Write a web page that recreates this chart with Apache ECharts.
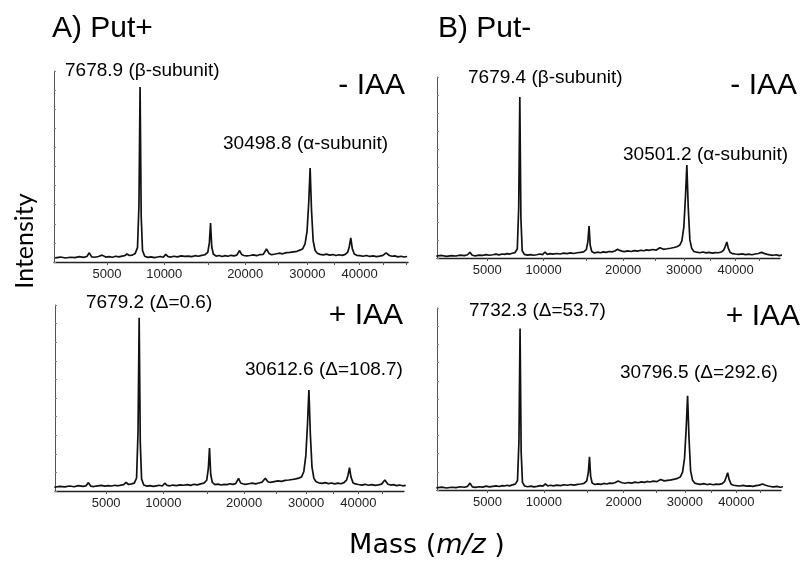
<!DOCTYPE html>
<html>
<head>
<meta charset="utf-8">
<script src="https://cdn.jsdelivr.net/npm/echarts@6/dist/echarts.min.js"></script>
<style>
html, body { margin: 0; padding: 0; background: #fff; }
#chart { width: 803px; height: 564px; }
</style>
</head>
<body>
<div id="chart"></div>
<script>
// m/z sample points shared by the four spectra
var mass = [
  1950, 2200, 2450, 2700, 2950, 3200, 3450, 3650, 3800, 3950,
  4150, 4400, 4650, 4900, 5150, 5400, 5650, 5900, 6150, 6350,
  6550, 6750, 7000, 7250, 7450, 7580, 7680, 7780, 7900, 8100,
  8400, 8700, 9000, 9300, 9600, 9900, 10150, 10400, 10700, 11000,
  11400, 11800, 12200, 12600, 13000, 13400, 13800, 14200, 14600, 14950,
  15150, 15300, 15450, 15650, 16000, 16400, 16800, 17200, 17600, 18000,
  18400, 18800, 19200, 19500, 19800, 20200, 20700, 21200, 21700, 22200,
  22700, 23200, 23600, 24000, 24600, 25200, 25800, 26400, 27000, 27600,
  28200, 28700, 29200, 29600, 29950, 30250, 30500, 30750, 31050, 31400,
  31800, 32300, 32900, 33500, 34100, 34700, 35300, 35900, 36500, 37100,
  37600, 37900, 38200, 38500, 38900, 39400, 40000, 40700, 41400, 42100,
  42800, 43500, 44200, 44900, 45600, 46300, 46900, 47500, 48200, 48900,
  49600, 50300
];

// relative intensity (% of panel height)
var putPlusNoIAA = [
  2.2, 2.6, 2.1, 2.5, 2.3, 2.8, 2.4, 2.9, 4.8, 2.7,
  2.5, 2.9, 3.6, 2.6, 2.8, 2.5, 3.0, 2.7, 3.1, 3.3,
  4.2, 3.4, 3.6, 4.5, 7.5, 30, 91.6, 24, 6.0, 3.0,
  2.4, 2.7, 2.3, 2.6, 2.9, 2.5, 4.0, 2.8, 2.6, 3.0,
  2.7, 3.2, 2.9, 3.1, 2.8, 3.3, 3.0, 3.5, 3.8, 5.0,
  10, 20.4, 8.0, 4.2, 3.1, 3.4, 2.9, 3.3, 3.0, 3.5,
  3.2, 3.6, 6.0, 3.9, 3.4, 3.2, 3.4, 3.7, 3.3, 3.9,
  4.0, 6.8, 4.5, 3.8, 4.2, 4.6, 4.3, 4.9, 5.0, 5.3,
  5.6, 6.2, 7.0, 9.5, 16, 31, 49.2, 27, 11, 6.0,
  4.6, 4.0, 3.7, 4.1, 3.6, 3.9, 3.4, 3.8, 3.5, 4.0,
  5.2, 8.0, 12.6, 7.0, 4.2, 3.5, 3.3, 3.0, 3.4, 2.9,
  3.2, 2.8, 3.1, 3.5, 4.8, 3.4, 3.0, 3.2, 2.7, 3.0,
  2.6, 2.9
];
var putMinusNoIAA = [
  1.0, 1.4, 0.9, 1.3, 1.1, 1.6, 1.3, 1.8, 3.2, 1.5,
  1.2, 1.6, 1.4, 1.9, 1.5, 1.8, 2.1, 1.7, 2.2, 2.0,
  2.4, 2.1, 2.6, 3.0, 5.0, 28, 89, 22, 4.0, 2.0,
  1.6, 1.9, 1.5, 1.8, 2.2, 1.9, 3.3, 2.0, 2.4, 2.1,
  2.5, 2.2, 2.7, 2.4, 2.8, 2.5, 2.9, 3.1, 3.4, 4.6,
  9.0, 17.7, 7.0, 3.6, 2.8, 3.2, 2.9, 3.4, 3.1, 3.6,
  3.4, 3.9, 4.8, 4.2, 3.8, 3.5, 3.9, 3.6, 4.1, 3.8,
  4.3, 4.0, 4.5, 4.2, 4.7, 4.4, 5.7, 4.8, 5.1, 5.4,
  5.8, 6.2, 7.0, 9.5, 17, 34, 51.4, 28, 10, 5.2,
  3.6, 3.2, 2.9, 3.3, 2.8, 3.1, 2.7, 3.0, 2.9, 3.3,
  4.5, 6.5, 8.8, 5.5, 3.0, 2.4, 2.2, 2.0, 2.3, 1.9,
  2.1, 1.8, 2.2, 2.5, 3.1, 2.4, 2.0, 1.7, 1.5, 1.8,
  1.3, 1.6
];
var putPlusIAA = [
  2.0, 2.5, 2.2, 2.7, 2.3, 2.9, 2.5, 2.8, 4.5, 2.6,
  2.4, 2.8, 3.0, 2.6, 2.9, 2.7, 3.1, 2.8, 3.2, 3.4,
  4.6, 3.5, 3.8, 4.2, 7.0, 32, 93.2, 26, 6.5, 3.2,
  2.6, 2.9, 2.5, 2.8, 3.1, 2.7, 4.2, 3.0, 2.8, 3.2,
  2.9, 3.3, 3.1, 3.4, 3.0, 3.6, 3.3, 3.8, 4.2, 5.8,
  12, 23.1, 9.0, 4.6, 3.4, 3.7, 3.2, 3.6, 3.4, 3.9,
  3.6, 4.0, 6.8, 4.3, 3.9, 3.6, 3.9, 4.2, 3.8, 4.3,
  4.8, 6.9, 5.0, 4.6, 5.0, 5.4, 5.2, 5.7, 5.9, 6.2,
  6.5, 6.9, 7.6, 10.5, 19, 36, 54.3, 31, 13, 6.8,
  5.0, 4.4, 4.1, 4.5, 4.0, 4.3, 3.8, 4.2, 3.9, 4.5,
  5.8, 8.5, 12.5, 7.5, 4.5, 3.8, 3.5, 3.2, 3.6, 3.1,
  3.4, 3.0, 3.3, 3.7, 5.9, 3.6, 3.2, 3.4, 2.9, 3.2,
  2.8, 3.0
];
var putMinusIAA = [
  1.2, 1.6, 1.1, 1.5, 1.3, 1.8, 1.5, 2.0, 3.8, 1.7,
  1.4, 1.8, 1.6, 2.1, 1.7, 2.0, 2.3, 1.9, 2.4, 2.2,
  2.6, 2.3, 2.8, 3.2, 5.2, 27, 88.8, 21, 4.2, 2.2,
  1.8, 2.1, 1.7, 2.0, 2.4, 2.1, 3.4, 2.2, 2.6, 2.3,
  2.7, 2.4, 2.9, 2.6, 3.0, 2.7, 3.1, 3.3, 3.6, 5.0,
  9.5, 18.3, 7.5, 3.8, 3.0, 3.4, 3.1, 3.6, 3.3, 3.8,
  3.6, 4.1, 4.9, 4.4, 4.0, 3.7, 4.1, 3.8, 4.3, 4.0,
  4.5, 4.2, 4.7, 4.4, 4.9, 4.6, 5.8, 5.0, 5.3, 5.6,
  6.0, 6.4, 7.2, 9.8, 17.5, 34, 51.8, 29, 10.5, 5.4,
  3.8, 3.4, 3.1, 3.5, 3.0, 3.3, 2.9, 3.2, 3.1, 3.5,
  4.8, 7.0, 9.5, 5.8, 3.2, 2.6, 2.4, 2.2, 2.5, 2.1,
  2.3, 2.0, 2.4, 2.7, 3.3, 2.6, 2.2, 1.9, 1.7, 2.0,
  1.5, 1.8
];

var tickLabels = [5000, 10000, 20000, 30000, 40000];
var tickMarks = [5000, 10000, 15000, 20000, 25000, 30000, 35000, 40000, 45000, 50000];

var panelTitles = ['A) Put+', 'B) Put-'];
var conditions = ['- IAA', '+ IAA'];
var betaLabels = ['7678.9 (β-subunit)', '7679.4 (β-subunit)', '7679.2 (Δ=0.6)', '7732.3 (Δ=53.7)'];
var alphaLabels = ['30498.8 (α-subunit)', '30501.2 (α-subunit)', '30612.6 (Δ=108.7)', '30796.5 (Δ=292.6)'];

// TOF spectra: m/z axis is drawn on a square-root scale
var panels = [
  { vals: putPlusNoIAA,  left: 54,  top: 71,  width: 354, height: 191, lo: 1900, hi: 50500 },
  { vals: putMinusNoIAA, left: 437, top: 77,  width: 343, height: 181, lo: 1980, hi: 49800 },
  { vals: putPlusIAA,    left: 55,  top: 305, width: 349, height: 186, lo: 1980, hi: 49900 },
  { vals: putMinusIAA,   left: 437, top: 308, width: 344, height: 182, lo: 1980, hi: 49800 }
];

var font = '"Liberation Sans", Arial, sans-serif';
var grids = [], xAxes = [], yAxes = [], series = [];

panels.forEach(function (p, i) {
  grids.push({ left: p.left, top: p.top, width: p.width, height: p.height });
  xAxes.push({
    type: 'value', gridIndex: i,
    min: Math.sqrt(p.lo), max: Math.sqrt(p.hi),
    axisLine: { show: true, onZero: false, lineStyle: { color: '#222', width: 1.3 } },
    axisTick: { show: true, customValues: tickMarks.map(Math.sqrt), length: 3, lineStyle: { color: '#555' } },
    axisLabel: {
      customValues: tickLabels.map(Math.sqrt),
      formatter: function (v) { return String(Math.round(v * v)); },
      fontSize: 13, color: '#222', margin: 6, fontFamily: font
    },
    splitLine: { show: false }
  });
  yAxes.push({
    type: 'value', gridIndex: i, min: 0, max: 100, interval: 10,
    axisLine: { show: true, lineStyle: { color: '#555', width: 1 } },
    axisTick: { show: true, inside: true, length: 2, lineStyle: { color: '#888' } },
    axisLabel: { show: false },
    splitLine: { show: false }
  });
  series.push({
    type: 'line', xAxisIndex: i, yAxisIndex: i,
    showSymbol: false, smooth: false, clip: true,
    lineStyle: { color: '#111', width: 1.7 },
    data: mass.map(function (m, k) { return [Math.sqrt(m), p.vals[k]]; })
  });
});

function txt(s, x, y, size, align) {
  return {
    type: 'text', x: x, y: y,
    style: { text: s, font: size + 'px ' + font, fill: '#000', textAlign: align || 'left', textVerticalAlign: 'middle' }
  };
}

var graphics = [
  txt(panelTitles[0], 52, 29, 30),
  txt(panelTitles[1], 438, 29, 30),
  txt(betaLabels[0], 65, 71, 19),
  txt(conditions[0], 405, 86, 30, 'right'),
  txt(alphaLabels[0], 223, 144, 19),
  txt(betaLabels[1], 468, 78, 19),
  txt(conditions[0], 797, 86, 30, 'right'),
  txt(alphaLabels[1], 623, 155, 19),
  txt(betaLabels[2], 86, 303, 19),
  txt(conditions[1], 403, 316, 30, 'right'),
  txt(alphaLabels[2], 245, 370, 19),
  txt(betaLabels[3], 469, 311, 19),
  txt(conditions[1], 800, 317, 30, 'right'),
  txt(alphaLabels[3], 620, 373, 19),
  {
    type: 'text', x: 25, y: 241, rotation: Math.PI / 2,
    style: { text: 'Intensity', font: '25px Lato, "Open Sans", sans-serif', fill: '#000', textAlign: 'center', textVerticalAlign: 'middle' }
  },
  {
    type: 'text', x: 427, y: 546,
    style: {
      text: '{a|Mass (}{b|m/z}{a| )}',
      textAlign: 'center', textVerticalAlign: 'middle',
      rich: {
        a: { fontFamily: '"DejaVu Sans", sans-serif', fontSize: 27, fill: '#000' },
        b: { fontFamily: '"DejaVu Sans", sans-serif', fontSize: 27, fontStyle: 'italic', fill: '#000' }
      }
    }
  }
];

var chart = echarts.init(document.getElementById('chart'), null, { renderer: 'canvas' });
chart.setOption({
  animation: false,
  backgroundColor: '#fff',
  grid: grids,
  xAxis: xAxes,
  yAxis: yAxes,
  series: series,
  graphic: graphics
});
</script>
</body>
</html>
